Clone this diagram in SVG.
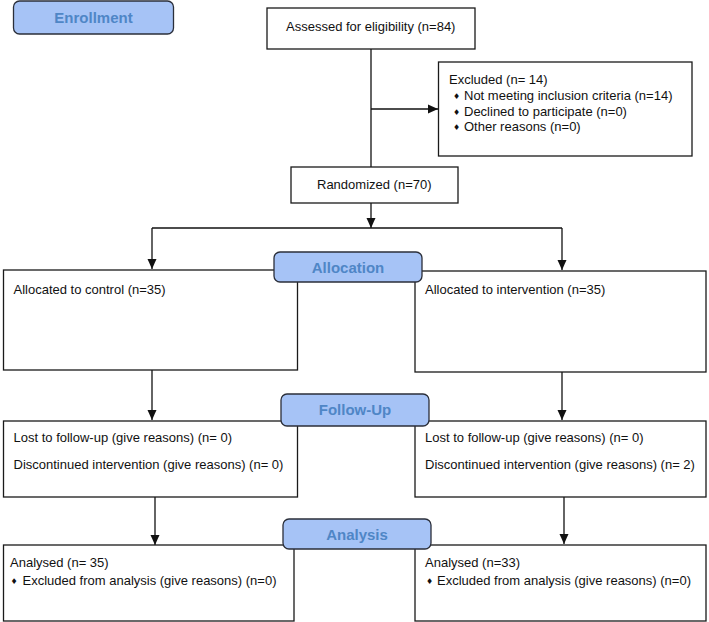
<svg xmlns="http://www.w3.org/2000/svg" width="709" height="622" viewBox="0 0 709 622">
<style>
.box{fill:#fff;stroke:#1a1a1a;stroke-width:1.3}
.lbl{fill:#a6c3f6;stroke:#2b2f3a;stroke-width:1.3}
.lt{font-family:"Liberation Sans",Arial,sans-serif;font-weight:bold;font-size:15px;fill:#4f86c6;text-anchor:middle}
.t{font-family:"Liberation Sans",Arial,sans-serif;font-size:13px;fill:#111}
.b{font-family:"DejaVu Sans",sans-serif;font-size:8px;fill:#111}
.c{stroke:#111;stroke-width:1.3;fill:none}
</style>
<defs>
<marker id="ah" markerUnits="userSpaceOnUse" markerWidth="10" markerHeight="10" refX="10" refY="5" orient="auto">
<path d="M0,0.5 L10,5 L0,9.5 z" fill="#111"/>
</marker>
</defs>
<rect width="709" height="622" fill="#fff"/>
<g id="connectors">
<line class="c" x1="371" y1="49" x2="371" y2="167"/>
<line class="c" x1="371" y1="109" x2="438" y2="109" marker-end="url(#ah)"/>
<line class="c" x1="371" y1="203" x2="371" y2="228" marker-end="url(#ah)"/>
<line class="c" x1="152" y1="228" x2="562" y2="228"/>
<line class="c" x1="152" y1="228" x2="152" y2="269" marker-end="url(#ah)"/>
<line class="c" x1="562" y1="228" x2="562" y2="270" marker-end="url(#ah)"/>
<line class="c" x1="152" y1="370" x2="152" y2="420" marker-end="url(#ah)"/>
<line class="c" x1="562" y1="372" x2="562" y2="420" marker-end="url(#ah)"/>
<line class="c" x1="155" y1="497" x2="155" y2="545" marker-end="url(#ah)"/>
<line class="c" x1="564" y1="497" x2="564" y2="544" marker-end="url(#ah)"/>
</g>
<g id="assessed">
<rect class="box" x="267" y="8" width="208" height="41"/>
<text class="t" x="286" y="31">Assessed for eligibility (n=84)</text>
</g>
<g id="excluded">
<rect class="box" x="438.5" y="62" width="253.5" height="94"/>
<text class="t" x="449" y="84">Excluded (n= 14)</text>
<text class="b" x="453" y="99">♦</text>
<text class="t" x="464" y="100">Not meeting inclusion criteria (n=14)</text>
<text class="b" x="453" y="115">♦</text>
<text class="t" x="464" y="116">Declined to participate (n=0)</text>
<text class="b" x="453" y="130">♦</text>
<text class="t" x="464" y="131">Other reasons (n=0)</text>
</g>
<g id="randomized">
<rect class="box" x="291" y="167" width="167" height="36"/>
<text class="t" x="317" y="189">Randomized (n=70)</text>
</g>
<g id="alloc-control">
<rect class="box" x="3.5" y="270" width="294" height="100"/>
<text class="t" x="13.5" y="294">Allocated to control (n=35)</text>
</g>
<g id="alloc-intervention">
<rect class="box" x="415" y="271" width="291" height="101"/>
<text class="t" x="425" y="294">Allocated to intervention (n=35)</text>
</g>
<g id="follow-control">
<rect class="box" x="3.5" y="421" width="294" height="76"/>
<text class="t" x="13.5" y="442">Lost to follow-up (give reasons) (n= 0)</text>
<text class="t" x="13.5" y="469">Discontinued intervention (give reasons) (n= 0)</text>
</g>
<g id="follow-intervention">
<rect class="box" x="415" y="421" width="291" height="76"/>
<text class="t" x="425" y="442">Lost to follow-up (give reasons) (n= 0)</text>
<text class="t" x="425" y="469">Discontinued intervention (give reasons) (n= 2)</text>
</g>
<g id="analysis-control">
<rect class="box" x="3.5" y="545" width="290.5" height="76"/>
<text class="t" x="10" y="567">Analysed (n= 35)</text>
<text class="b" x="10.5" y="584">♦</text>
<text class="t" x="22.5" y="585">Excluded from analysis (give reasons) (n=0)</text>
</g>
<g id="analysis-intervention">
<rect class="box" x="415" y="545" width="291" height="76"/>
<text class="t" x="425" y="567">Analysed (n=33)</text>
<text class="b" x="426" y="584">♦</text>
<text class="t" x="437" y="585">Excluded from analysis (give reasons) (n=0)</text>
</g>
<g id="enrollment">
<rect class="lbl" x="13.5" y="1" width="160" height="33" rx="6"/>
<text class="lt" x="93.5" y="23">Enrollment</text>
</g>
<g id="allocation">
<rect class="lbl" x="274" y="252" width="148" height="30" rx="6"/>
<text class="lt" x="348" y="273">Allocation</text>
</g>
<g id="follow-up">
<rect class="lbl" x="281" y="394" width="148" height="32" rx="6"/>
<text class="lt" x="355" y="415">Follow-Up</text>
</g>
<g id="analysis">
<rect class="lbl" x="283" y="519" width="148" height="30" rx="6"/>
<text class="lt" x="357" y="540">Analysis</text>
</g>
</svg>
